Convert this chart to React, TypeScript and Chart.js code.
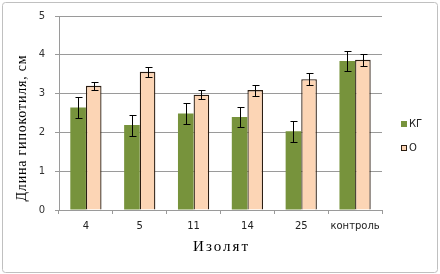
import React, { useEffect, useRef } from "react";
import { Chart, registerables } from "chart.js";

Chart.register(...registerables);

const categories = ["4", "5", "11", "14", "25", "контроль"];
const kgValues = [2.64, 2.19, 2.49, 2.4, 2.03, 3.84];
const kgErrors = [0.27, 0.27, 0.27, 0.26, 0.27, 0.26];
const oValues = [3.2, 3.56, 2.97, 3.09, 3.37, 3.87];
const oErrors = [0.1, 0.12, 0.11, 0.14, 0.15, 0.15];
const seriesNames = ["КГ", "О"];
const yMin = 0;
const yMax = 5;
const yStep = 1;
const yTitle = "Длина гипокотиля, см";
const xTitle = "Изолят";

const GREEN = "#77933c";
const PEACH = "#fcd5b5";
const PEACH_BORDER = "#2b1d12";
const GRID = "#9a9a9a";
const TICK_FONT = "DejaVu Sans";
const SERIF = "Liberation Serif";

const errorBarPlugin = {
  id: "errorBars",
  afterDatasetsDraw(chart: any) {
    const ctx = chart.ctx;
    const y = chart.scales.y;
    chart.data.datasets.forEach((ds: any, i: number) => {
      const meta = chart.getDatasetMeta(i);
      meta.data.forEach((bar: any, j: number) => {
        const v = ds.data[j];
        const e = ds.errors[j];
        const top = Math.round(y.getPixelForValue(v + e)) + 0.5;
        const bot = Math.round(y.getPixelForValue(v - e)) + 0.5;
        const x = Math.round(bar.x) + 0.5;
        ctx.save();
        ctx.strokeStyle = "#000";
        ctx.lineWidth = 1;
        ctx.beginPath();
        ctx.moveTo(x, top);
        ctx.lineTo(x, bot);
        ctx.moveTo(x - 3, top);
        ctx.lineTo(x + 4, top);
        ctx.moveTo(x - 3, bot);
        ctx.lineTo(x + 4, bot);
        ctx.stroke();
        ctx.restore();
      });
    });
  },
};

const decorPlugin = {
  id: "decor",
  beforeDraw(chart: any) {
    const ctx = chart.ctx;
    ctx.save();
    ctx.fillStyle = "#fff";
    ctx.fillRect(0, 0, chart.width, chart.height);
    ctx.strokeStyle = "#c0c0c0";
    ctx.lineWidth = 1;
    ctx.beginPath();
    (ctx as any).roundRect(2.5, 2.5, 435, 270, 3);
    ctx.stroke();
    ctx.restore();
  },
  afterDraw(chart: any) {
    const ctx = chart.ctx;
    const area = chart.chartArea;
    ctx.save();
    // y title
    ctx.fillStyle = "#000";
    ctx.font = `14px "${SERIF}"`;
    (ctx as any).letterSpacing = "0.8px";
    ctx.textAlign = "center";
    ctx.textBaseline = "middle";
    ctx.save();
    ctx.translate(22, 128);
    ctx.rotate(-Math.PI / 2);
    ctx.fillText(yTitle, 0, 0);
    ctx.restore();
    // x title
    (ctx as any).letterSpacing = "2px";
    ctx.font = `15px "${SERIF}"`;
    ctx.fillText(xTitle, (area.left + area.right) / 2 + 1, 247);
    (ctx as any).letterSpacing = "0px";
    // legend
    const colors = [GREEN, PEACH];
    const ys = [124, 148];
    ctx.font = `10px "${TICK_FONT}"`;
    ctx.textAlign = "left";
    seriesNames.forEach((name, i) => {
      ctx.fillStyle = colors[i];
      ctx.fillRect(401, ys[i] - 3, 6, 6);
      if (i === 1) {
        ctx.strokeStyle = PEACH_BORDER;
        ctx.lineWidth = 1;
        ctx.strokeRect(401.5, ys[i] - 2.5, 5, 5);
      }
      ctx.fillStyle = "#222";
      ctx.fillText(name, 409, ys[i] + 0.5);
    });
    ctx.restore();
  },
};

export default function App() {
  const ref = useRef<HTMLCanvasElement | null>(null);
  useEffect(() => {
    if (!ref.current) return;
    const chart = new Chart(ref.current, {
      type: "bar",
      data: {
        labels: categories,
        datasets: [
          {
            label: seriesNames[0],
            data: kgValues,
            errors: kgErrors,
            backgroundColor: GREEN,
            borderWidth: 0,
            categoryPercentage: 0.58,
            barPercentage: 1,
          } as any,
          {
            label: seriesNames[1],
            data: oValues,
            errors: oErrors,
            backgroundColor: PEACH,
            borderColor: PEACH_BORDER,
            borderWidth: 1.3,
            categoryPercentage: 0.58,
            barPercentage: 1,
          } as any,
        ],
      },
      options: {
        animation: false,
        responsive: false,
        devicePixelRatio: 1,
        layout: { padding: { left: 0, top: 15, right: 58, bottom: 0 } },
        plugins: {
          legend: { display: false },
          tooltip: { enabled: false },
        },
        scales: {
          x: {
            grid: {
              display: true,
              drawOnChartArea: false,
              drawTicks: true,
              tickLength: 4,
              color: GRID,
              offset: true,
            },
            border: { display: true, color: GRID },
            ticks: {
              color: "#222",
              font: { family: TICK_FONT, size: 10 },
              padding: 6,
              maxRotation: 0,
              autoSkip: false,
            },
            afterFit: (s: any) => {
              s.height = 64;
            },
          },
          y: {
            min: yMin,
            max: yMax,
            ticks: {
              stepSize: yStep,
              color: "#333",
              font: { family: TICK_FONT, size: 10 },
              padding: 10,
            },
            grid: { color: GRID, tickLength: 4, drawTicks: true },
            border: { display: true, color: GRID },
            afterFit: (s: any) => {
              s.width = 59;
            },
          },
        },
      },
      plugins: [decorPlugin, errorBarPlugin],
    });
    return () => chart.destroy();
  }, []);
  return (
    <div style={{ position: "fixed", left: 0, top: 0, width: 440, height: 274 }}>
      <canvas ref={ref} width={440} height={274} style={{ width: 440, height: 274, display: "block" }} />
    </div>
  );
}
